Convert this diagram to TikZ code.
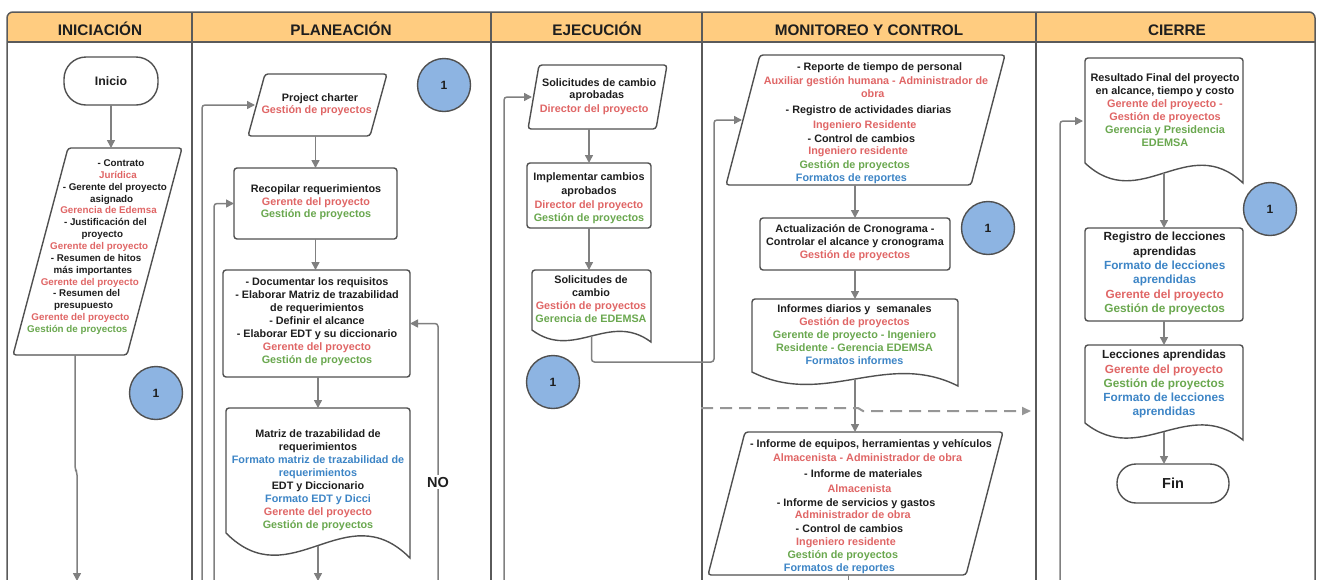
\documentclass[tikz,border=0pt]{standalone}
\usepackage{fontspec}
\setmainfont{Liberation Sans}
\usetikzlibrary{calc,arrows.meta}
\definecolor{rd}{RGB}{224,102,102}
\definecolor{gr}{RGB}{106,168,79}
\definecolor{bl}{RGB}{61,133,198}
\definecolor{tx}{RGB}{30,30,30}
\definecolor{ln}{RGB}{128,128,128}
\definecolor{bd}{RGB}{80,80,80}
\definecolor{fr}{RGB}{90,90,90}
\definecolor{hd}{RGB}{255,204,128}
\definecolor{cb}{RGB}{141,180,226}
\definecolor{dg}{RGB}{150,150,150}
\newcommand\cR[1]{\textcolor{rd}{#1}}
\newcommand\cG[1]{\textcolor{gr}{#1}}
\newcommand\cB[1]{\textcolor{bl}{#1}}
\newcommand\plt[4]{\node[ptxt,text=#3,anchor=base] (#1) at ({\PX-\PK*((#2)-\PY)},{(#2)+\PB}) {#4};}
\newcommand\plg[2]{\draw[shp] ($(#1.north west)+(#2,0)$) -- (#1.north east) -- ($(#1.south east)+(-#2,0)$) -- (#1.south west) -- cycle;}
\newcommand\docsh[2]{\draw[shp] (#1.south west) [rounded corners=3pt] -- (#1.north west) -- (#1.north east) [sharp corners] -- ($(#1.south east)+(0,#2)$) .. controls ($(#1.south west)!0.65!(#1.south east)+(0,-1.6*#2)$) and ($(#1.south west)!0.35!(#1.south east)+(0,2.6*#2)$) .. (#1.south west) -- cycle;}
\tikzset{
 frm/.style={draw=fr, line width=1.5pt},
 shp/.style={draw=bd, line width=1.4pt, rounded corners=3pt, fill=white},
 sbx/.style={inner sep=0pt, outer sep=0pt},
 rbx/.style={draw=bd, line width=1.4pt, rounded corners=3pt, fill=white, inner sep=0pt, outer sep=0pt},
 term/.style={draw=bd, line width=1.4pt, fill=white, inner sep=0pt, outer sep=0pt, text=tx},
 circ/.style={circle, minimum size=53pt, inner sep=0pt, outer sep=0pt, fill=cb, draw=bd, line width=1.4pt, text=tx, font=\bfseries\fontsize{12}{12}\selectfont},
 arr/.style={draw=ln, line width=1.5pt, rounded corners=3pt, -{Triangle[length=8pt,width=8pt]}},
 lnk/.style={draw=ln, line width=1.5pt, rounded corners=3pt},
 dsh/.style={draw=dg, line width=2pt, dash pattern=on 12pt off 7pt, -{Triangle[length=9pt,width=8pt]}},
 hdr/.style={font=\bfseries\fontsize{15.3}{15.3}\selectfont, text=tx, inner sep=0pt, anchor=base},
 txt/.style={align=center, inner sep=0pt, text=tx, font=\bfseries\fontsize{10.8}{13}\selectfont},
 ptxt/.style={inner sep=0pt, font=\bfseries\fontsize{10.8}{13}\selectfont},
}
\begin{document}
\begin{tikzpicture}[x=1pt,y=-1pt]
\useasboundingbox (0,0) rectangle (1319,579);
\clip (0,0) rectangle (1319,579);
% frame and header
\fill[hd] (7,42) [rounded corners=6pt] -- (7,12) -- (1315,12) [sharp corners] -- (1315,42) -- cycle;
\draw[frm] (7,620) [rounded corners=6pt] -- (7,12) -- (1315,12) [sharp corners] -- (1315,620);
\draw[frm] (7,42) -- (1315,42);
\foreach \x in {192,491,702,1036} \draw[frm] (\x,12) -- (\x,620);
\node[hdr] (hI) at (100,35.5) {INICIACIÓN};
\node[hdr] (hP) at (341,35.5) {PLANEACIÓN};
\node[hdr] (hE) at (597,35.5) {EJECUCIÓN};
\node[hdr] (hM) at (869,35.5) {MONITOREO Y CONTROL};
\node[hdr] (hC) at (1177,35.5) {CIERRE};

% free ends
\coordinate (bI) at (77,581);
\coordinate (bP1) at (202,590);
\coordinate (bP2) at (214,590);
\coordinate (bPm) at (318,581);
\coordinate (bNO) at (438,590);
\coordinate (bE) at (504,590);
\coordinate (bM) at (848.5,590);
\coordinate (bC) at (1060,590);
\coordinate (jE) at (714,362);
\coordinate (dS) at (701,408);
\coordinate (dE) at (1031,411);

% ---------- INICIACION ----------
\node[term, rounded corners=22pt, minimum width=94pt, minimum height=48pt, font=\bfseries\fontsize{12.3}{12.3}\selectfont] (ini) at (111,81) {Inicio};
\node[sbx, minimum width=169pt, minimum height=207pt] (pI) at (97.5,251.5) {};
\plg{pI}{55}
\begin{scope}[ptxt/.style={inner sep=0pt, font=\bfseries\fontsize{9.8}{12}\selectfont}]
\def\PX{125}\def\PY{148}\def\PK{0.2633}\def\PB{3.4}
\plt{i1}{163}{tx}{- Contrato}
\plt{i2}{174.9}{rd}{Jurídica}
\plt{i3}{186.7}{tx}{- Gerente del proyecto}
\plt{i4}{198.6}{tx}{asignado}
\plt{i5}{210.4}{rd}{Gerencia de Edemsa}
\plt{i6}{222.3}{tx}{- Justificación del}
\plt{i7}{234.2}{tx}{proyecto}
\plt{i8}{246}{rd}{Gerente del proyecto}
\plt{i9}{257.9}{tx}{- Resumen de hitos}
\plt{i10}{269.7}{tx}{más importantes}
\plt{i11}{281.6}{rd}{Gerente del proyecto}
\plt{i12}{293.5}{tx}{- Resumen del}
\plt{i13}{305.3}{tx}{presupuesto}
\plt{i14}{317.2}{rd}{Gerente del proyecto}
\plt{i15}{329}{gr}{Gestión de proyectos}
\end{scope}
\node[circ] (c1) at (156,393) {1};

% ---------- PLANEACION ----------
\node[sbx, minimum width=139pt, minimum height=62pt] (pc) at (317.5,105) {};
\plg{pc}{17}
\def\PX{326}\def\PY{74}\def\PK{0.258}\def\PB{3.7}
\plt{p1}{97.3}{tx}{Project charter}
\plt{p2}{110}{rd}{Gestión de proyectos}
\node[rbx, minimum width=163pt, minimum height=71pt] (rec) at (315.5,203.5) {};
\node[txt, font=\bfseries\fontsize{10.8}{12.7}\selectfont] (recT) at (316,202.5) {Recopilar requerimientos\\\cR{Gerente del proyecto}\\\cG{Gestión de proyectos}};
\node[rbx, minimum width=187pt, minimum height=107pt] (doc) at (316.5,323.5) {};
\node[txt] (docT) at (317,322) {- Documentar los requisitos\\- Elaborar Matriz de trazabilidad\\de requerimientos\\- Definir el alcance\\- Elaborar EDT y su diccionario\\\cR{Gerente del proyecto}\\\cG{Gestión de proyectos}};
\node[sbx, minimum width=184pt, minimum height=125pt] (mat) at (318,470.5) {};
\docsh{mat}{25}
\node[txt] (matT) at (318,480.5) {Matriz de trazabilidad de\\requerimientos\\\cB{Formato matriz de trazabilidad de}\\\cB{requerimientos}\\EDT y Diccionario\\\cB{Formato EDT y Dicci}\\\cR{Gerente del proyecto}\\\cG{Gestión de proyectos}};
\node[circ] (c2) at (444,85) {1};
\coordinate (pcIn) at ($(pc.west)+(7,0)$);

% ---------- EJECUCION ----------
\node[sbx, minimum width=139pt, minimum height=64pt] (sca) at (597.5,97) {};
\plg{sca}{11}
\def\PX{602.5}\def\PY{65}\def\PK{0.19}\def\PB{3.7}
\plt{e1}{82.7}{tx}{Solicitudes de cambio}
\plt{e2}{95}{tx}{aprobadas}
\plt{e3}{109}{rd}{Director del proyecto}
\node[rbx, minimum width=124pt, minimum height=65pt] (imp) at (589,195.5) {};
\node[txt, font=\bfseries\fontsize{10.8}{13.8}\selectfont] (impT) at (589,198.5) {Implementar cambios\\aprobados\\\cR{Director del proyecto}\\\cG{Gestión de proyectos}};
\node[sbx, minimum width=119pt, minimum height=60pt] (scd) at (591.5,300) {};
\docsh{scd}{12}
\node[txt] (scdT) at (591,299.5) {Solicitudes de\\cambio\\\cR{Gestión de proyectos}\\\cG{Gerencia de EDEMSA}};
\node[circ] (c3) at (553,382) {1};
\coordinate (scaIn) at ($(sca.west)+(4,0)$);

% ---------- MONITOREO ----------
\node[sbx, minimum width=279pt, minimum height=130pt] (mp1) at (865.5,120) {};
\plg{mp1}{34}
\def\PX{882.5}\def\PY{55}\def\PK{0.2538}\def\PB{3.7}
\plt{m1}{66.7}{tx}{- Reporte de tiempo de personal}
\plt{m2}{80.7}{rd}{Auxiliar gestión humana - Administrador de}
\plt{m3}{93.3}{rd}{obra}
\plt{m4}{110}{tx}{- Registro de actividades diarias}
\plt{m5}{125}{rd}{Ingeniero Residente}
\plt{m6}{138.3}{tx}{- Control de cambios}
\plt{m7}{151}{rd}{Ingeniero residente}
\plt{m8}{164.3}{gr}{Gestión de proyectos}
\plt{m9}{177.3}{bl}{Formatos de reportes}
\node[rbx, minimum width=190pt, minimum height=52pt] (act) at (855,244) {};
\node[txt] (actT) at (855,243) {Actualización de Cronograma -\\Controlar el alcance y cronograma\\\cR{Gestión de proyectos}};
\node[sbx, minimum width=206pt, minimum height=73pt] (inf) at (855,335.5) {};
\docsh{inf}{14}
\node[txt, font=\bfseries\fontsize{10.8}{13.2}\selectfont] (infT) at (854.5,334.7) {Informes diarios y~ semanales\\\cR{Gestión de proyectos}\\\cG{Gerente de proyecto - Ingeniero}\\\cG{Residente - Gerencia EDEMSA}\\\cB{Formatos informes}};
\node[sbx, minimum width=295pt, minimum height=143pt] (mp2) at (855.5,503.5) {};
\plg{mp2}{37}
\def\PX{874}\def\PY{432}\def\PK{0.2552}\def\PB{3.7}
\plt{n1}{444}{tx}{- Informe de equipos, herramientas y vehículos}
\plt{n2}{457.3}{rd}{Almacenista - Administrador de obra}
\plt{n3}{474}{tx}{- Informe de materiales}
\plt{n4}{489}{rd}{Almacenista}
\plt{n5}{502.3}{tx}{- Informe de servicios y gastos}
\plt{n6}{515}{rd}{Administrador de obra}
\plt{n7}{528.3}{tx}{- Control de cambios}
\plt{n8}{541.7}{rd}{Ingeniero residente}
\plt{n9}{554.3}{gr}{Gestión de proyectos}
\plt{n10}{567.3}{bl}{Formatos de reportes}
\node[circ] (c4) at (988,228) {1};
\coordinate (mp1In) at ($(mp1.west)+(16,0)$);

% ---------- CIERRE ----------
\node[sbx, minimum width=158pt, minimum height=105pt] (res) at (1164,110.5) {};
\docsh{res}{20}
\node[txt, font=\bfseries\fontsize{10.9}{13.1}\selectfont] (resT) at (1165,110) {Resultado Final del proyecto\\en alcance, tiempo y costo\\\cR{Gerente del proyecto -}\\\cR{Gestión de proyectos}\\\cG{Gerencia y Presidencia}\\\cG{EDEMSA}};
\node[rbx, minimum width=158pt, minimum height=93pt] (reg) at (1164,274.5) {};
\node[txt, font=\bfseries\fontsize{11.8}{14.3}\selectfont] (regT) at (1164.7,273.5) {Registro de lecciones\\aprendidas\\\cB{Formato de lecciones}\\\cB{aprendidas}\\\cR{Gerente del proyecto}\\\cG{Gestión de proyectos}};
\node[sbx, minimum width=158pt, minimum height=78pt] (lec) at (1164,384) {};
\docsh{lec}{17}
\node[txt, font=\bfseries\fontsize{11.8}{14.2}\selectfont] (lecT) at (1164,384.3) {Lecciones aprendidas\\\cR{Gerente del proyecto}\\\cG{Gestión de proyectos}\\\cB{Formato de lecciones}\\\cB{aprendidas}};
\node[term, rounded corners=19pt, minimum width=112pt, minimum height=39pt, font=\bfseries\fontsize{14.5}{14.5}\selectfont] (fin) at (1173,483.5) {Fin};
\node[circ] (c5) at (1270,209) {1};
\coordinate (resIn) at (1083,121);

% ---------- connectors ----------
\draw[arr] (ini.south) -- (ini.south |- pI.north);
\draw[arr] ($(pI.south west)+(62,0)$) -- ++(0,114) -- ++(2,3) -- (bI);

\draw[arr] (pc.south -| rec.north) -- (rec.north);
\draw[arr] (rec.south) -- (rec.south |- doc.north);
\draw[arr] (doc.south -| mat.north) -- (mat.north);
\draw[arr] ($(mat.south)+(0,12.5)$) -- (mat.south |- bPm);
\draw[arr] (bNO) |- (doc.east);
\draw[arr] (bP1) |- (pcIn);
\draw[arr] (bP2) |- (rec.west);
\node[font=\bfseries\fontsize{14.5}{14.5}\selectfont, fill=white, inner sep=2pt, text=tx] (no) at (438,482) {NO};

\draw[arr] (sca.south -| imp.north) -- (imp.north);
\draw[arr] (imp.south) -- (imp.south |- scd.north);
\draw[arr] (bE) |- (scaIn);
\draw[arr] ($(scd.south)+(0,6)$) |- (jE) |- (mp1In);

\draw[arr] (mp1.south -| act.north) -- (act.north);
\draw[arr] (act.south) -- (act.south |- inf.north);
\draw[arr] ($(inf.south)+(0,7)$) -- (inf.south |- mp2.north);
\draw[lnk] ($(mp2.south)+(-7,0)$) -- (bM);
\draw[dsh] (dS) -- (858,408) -- (863,411) -- (dE);

\draw[arr] (bC) |- (resIn);
\draw[arr] ($(res.south)+(0,10)$) -- (res.south |- reg.north);
\draw[arr] (reg.south) -- (reg.south |- lec.north);
\draw[arr] ($(lec.south)+(0,8.5)$) -- (lec.south |- fin.north);
\end{tikzpicture}
\end{document}
